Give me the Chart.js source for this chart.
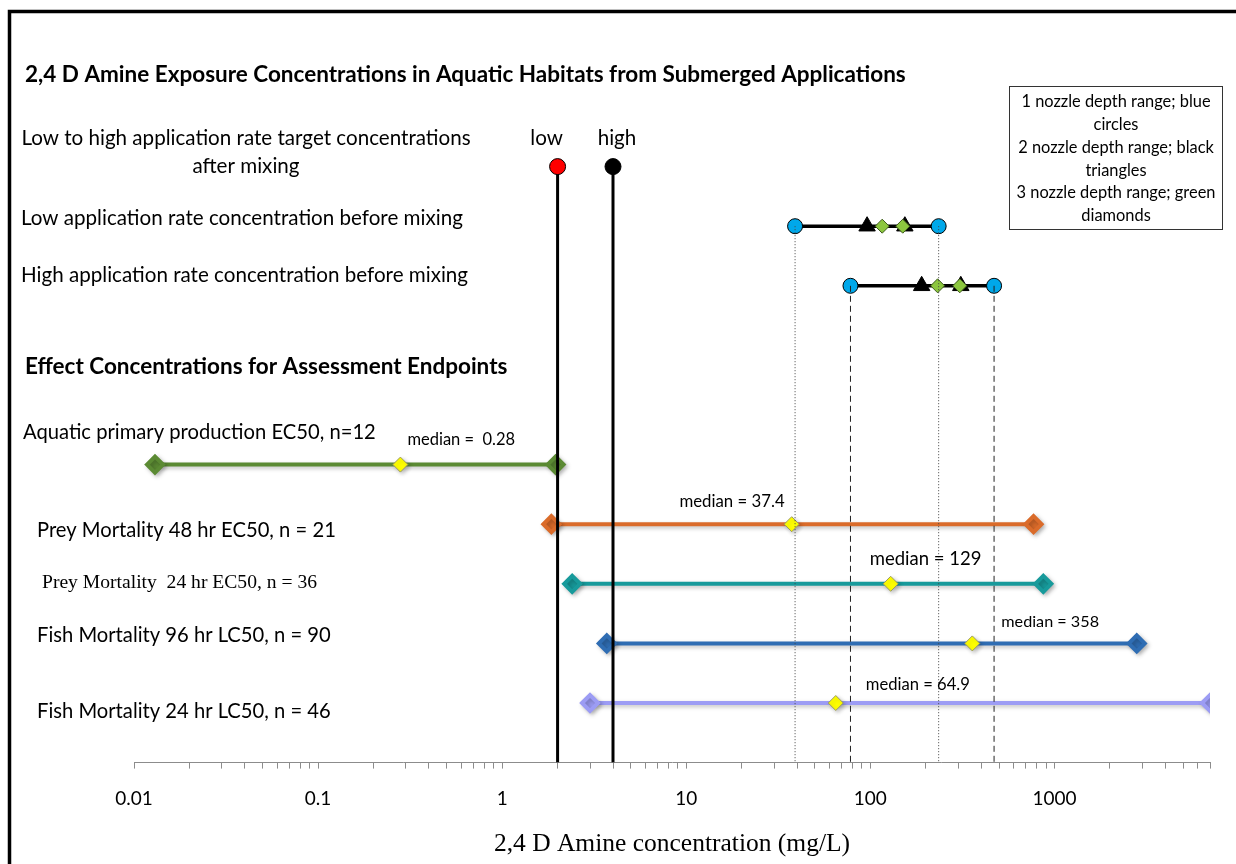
<!DOCTYPE html>
<html>
<head>
<meta charset="utf-8">
<script src="https://cdn.jsdelivr.net/npm/chart.js@4.4.1/dist/chart.umd.min.js"></script>
<style>
  body { margin: 0; background: #fff; }
  #wrap { width: 1236px; height: 864px; }
</style>
</head>
<body>
<div id="wrap"><canvas id="chart" width="1236" height="864"></canvas></div>
<script>
const chartTitle = '2,4 D Amine Exposure Concentrations in Aquatic Habitats from Submerged Applications';
const sectionTitle = 'Effect Concentrations for Assessment Endpoints';
const axisTitle = '2,4 D Amine concentration (mg/L)';

// target concentrations after mixing
const targetRowText = ['Low to high application rate target concentrations', 'after mixing'];
const targetNames = ['low', 'high'];
const targetConc = [2, 4];

// concentrations before mixing (low row, high row)
const exposureRows = ['Low application rate concentration before mixing', 'High application rate concentration before mixing'];
const nozzle1 = [[39, 235], [78, 470]];   // blue circles
const nozzle2 = [[96, 154], [190, 310]];  // black triangles
const nozzle3 = [[116, 150], [232, 306]]; // green diamonds

// effect concentrations
const endpoints = [
  'Aquatic primary production EC50, n=12',
  'Prey Mortality 48 hr EC50, n = 21',
  'Prey Mortality  24 hr EC50, n = 36',
  'Fish Mortality 96 hr LC50, n = 90',
  'Fish Mortality 24 hr LC50, n = 46'
];
const epMin = [0.013, 1.85, 2.4, 3.7, 3.0];
const epMedian = [0.28, 37.4, 129, 358, 64.9];
const epMax = [1.95, 770, 870, 2800, 7000];
const medianText = ['median =  0.28', 'median = 37.4', 'median = 129', 'median = 358', 'median = 64.9'];

const legendLines = ['1 nozzle depth range; blue', 'circles', '2 nozzle depth range; black', 'triangles', '3 nozzle depth range; green', 'diamonds'];
const xTicks = [0.01, 0.1, 1, 10, 100, 1000];
const xMax = 7000;

// styles
const epColors = ['#5b8a33', '#da6b2a', '#179a9b', '#2f6db3', '#9c9cf4'];
const SANS = 'Lato, "Noto Sans", sans-serif';
const SERIF = '"Liberation Serif", "DejaVu Serif", serif';

// row positions on the (hidden) y scale
const targetRow = 0;
const expRow = [1, 2];
const epRow = [5, 6, 7, 8, 9];
const axisRow = 10;

const datasets = [];

// vertical guides from the before-mixing range ends
nozzle1.forEach((pair, i) => {
  pair.forEach(v => datasets.push({
    data: [{x: v, y: expRow[i]}, {x: v, y: axisRow}],
    showLine: true, borderColor: i ? '#222' : '#444', borderWidth: 1,
    borderDash: i ? [6, 4] : [1, 2], pointRadius: 0, order: 1
  }));
});

// target concentration lines
targetConc.forEach((v, i) => datasets.push({
  data: [{x: v, y: targetRow}, {x: v, y: axisRow}],
  showLine: true, borderColor: '#000', borderWidth: 3,
  pointRadius: [8, 0], pointBackgroundColor: i ? '#000' : '#ff0000',
  pointBorderColor: '#000', pointBorderWidth: 1, order: 0
}));

// before mixing ranges
nozzle1.forEach((pair, i) => datasets.push({
  data: pair.map(v => ({x: v, y: expRow[i]})),
  showLine: true, borderColor: '#000', borderWidth: 3.5,
  pointRadius: 7.5, pointBackgroundColor: '#00a8ea', pointBorderColor: '#000', pointBorderWidth: 1, order: 4
}));
nozzle2.forEach((pair, i) => datasets.push({
  data: pair.map(v => ({x: v, y: expRow[i]})),
  pointStyle: 'triangle', pointRadius: 9.5, pointBackgroundColor: '#000', pointBorderColor: '#000', order: 3
}));
nozzle3.forEach((pair, i) => datasets.push({
  data: pair.map(v => ({x: v, y: expRow[i]})),
  pointStyle: 'rectRot', pointRadius: 7, pointBackgroundColor: '#8cc63f', pointBorderColor: '#3d5a1c', pointBorderWidth: 1, order: 2
}));

// effect ranges + medians
endpoints.forEach((name, i) => {
  datasets.push({
    data: [{x: epMin[i], y: epRow[i]}, {x: epMax[i], y: epRow[i]}],
    showLine: true, borderColor: epColors[i], borderWidth: 4, shadow: true,
    pointStyle: 'rectRot', pointRadius: 8, pointBackgroundColor: epColors[i], pointBorderColor: epColors[i], order: 6
  });
  datasets.push({
    data: [{x: epMedian[i], y: epRow[i]}], shadow: true,
    pointStyle: 'rectRot', pointRadius: 7.5, pointBackgroundColor: '#ffff00',
    pointBorderColor: '#9a9a60', pointBorderWidth: 1, order: 5
  });
});

// soft drop shadow like the original markers
const shadowPlugin = {
  id: 'shadow',
  beforeDatasetDraw(chart, args) {
    if (!chart.data.datasets[args.index].shadow) return;
    const ctx = chart.ctx;
    ctx.save();
    ctx.shadowColor = 'rgba(0,0,0,0.25)';
    ctx.shadowBlur = 4;
    ctx.shadowOffsetX = 2;
    ctx.shadowOffsetY = 2;
  },
  afterDatasetDraw(chart, args) {
    if (chart.data.datasets[args.index].shadow) chart.ctx.restore();
  }
};

const textPlugin = {
  id: 'texts',
  afterDraw(chart) {
    const {ctx, scales: {x, y}} = chart;
    const yOf = r => y.getPixelForValue(r);
    ctx.save();
    // frame
    ctx.strokeStyle = '#000';
    ctx.lineWidth = 3.5;
    ctx.beginPath();
    ctx.moveTo(9.5, 870); ctx.lineTo(9.5, 11.5); ctx.lineTo(1240, 11.5);
    ctx.stroke();

    ctx.fillStyle = '#000';
    ctx.textBaseline = 'middle';
    ctx.textAlign = 'left';
    ctx.font = 'bold 22.5px ' + SANS;
    ctx.fillText(chartTitle, 25, 75);
    ctx.fillText(sectionTitle, 25, yOf(3.36));

    ctx.font = '20.6px ' + SANS;
    ctx.textAlign = 'center';
    ctx.fillText(targetRowText[0], 246, yOf(targetRow) - 28);
    ctx.fillText(targetRowText[1], 246, yOf(targetRow));
    targetConc.forEach((v, i) => ctx.fillText(targetNames[i], x.getPixelForValue(v) + (i ? 4 : -11), yOf(targetRow) - 28));

    ctx.textAlign = 'left';
    ctx.fillText(exposureRows[0], 21, yOf(expRow[0]) - 8);
    ctx.fillText(exposureRows[1], 21, yOf(expRow[1]) - 10);

    const labX = [23, 37, 42, 37, 37];
    const labDy = [-32, 6, -1, -8, 8];
    endpoints.forEach((t, i) => {
      ctx.font = (i === 2 ? '19.6px ' + SERIF : '20.2px ' + SANS);
      ctx.fillText(t, labX[i], yOf(epRow[i]) + labDy[i]);
    });

    // median labels
    const mDx = [7, -7, -21, 29, 30];
    const mDy = [-25, -23, -25, -22, -18];
    const mSize = [16.5, 16.8, 18.5, 16.2, 16.6];
    endpoints.forEach((t, i) => {
      ctx.font = mSize[i] + 'px ' + SANS;
      ctx.textAlign = i === 1 ? 'right' : 'left';
      ctx.fillText(medianText[i], x.getPixelForValue(epMedian[i]) + mDx[i], yOf(epRow[i]) + mDy[i]);
    });

    // legend box
    ctx.fillStyle = '#fff';
    ctx.fillRect(1009.5, 86.5, 213, 143);
    ctx.strokeStyle = '#333';
    ctx.lineWidth = 1;
    ctx.strokeRect(1009.5, 86.5, 213, 143);
    ctx.fillStyle = '#000';
    ctx.font = '16.4px ' + SANS;
    ctx.textAlign = 'center';
    legendLines.forEach((t, i) => ctx.fillText(t, 1116, 102 + i * 22.8));
    ctx.restore();
  }
};

new Chart(document.getElementById('chart'), {
  type: 'scatter',
  data: { datasets },
  options: {
    responsive: false,
    animation: false,
    layout: { padding: { left: 134, right: 26, top: 107, bottom: 0 } },
    plugins: { legend: { display: false }, tooltip: { enabled: false } },
    elements: { line: { tension: 0 } },
    scales: {
      x: {
        type: 'logarithmic', min: xTicks[0], max: xMax,
        afterBuildTicks(scale) {
          const ticks = [];
          xTicks.forEach(d => {
            for (let k = 1; k <= 9; k++) {
              const v = +(d * k).toPrecision(6);
              if (v <= xMax) ticks.push({value: v});
            }
          });
          scale.ticks = ticks;
        },
        border: { display: true, color: '#8c8c8c', width: 1 },
        grid: { drawOnChartArea: false, drawTicks: true, tickLength: 6, color: '#8c8c8c' },
        ticks: {
          autoSkip: false, maxRotation: 0, padding: 19, color: '#000',
          font: { family: SANS, size: 19 },
          callback: v => xTicks.includes(+(+v).toPrecision(6)) ? String(+(+v).toPrecision(6)) : ''
        },
        title: {
          display: true, text: axisTitle, color: '#000',
          font: { family: SERIF, size: 25.5 }, padding: { top: 0, bottom: 4 }
        }
      },
      y: { type: 'linear', min: -1, max: axisRow, reverse: true, display: false }
    }
  },
  plugins: [shadowPlugin, textPlugin]
});
</script>
</body>
</html>
